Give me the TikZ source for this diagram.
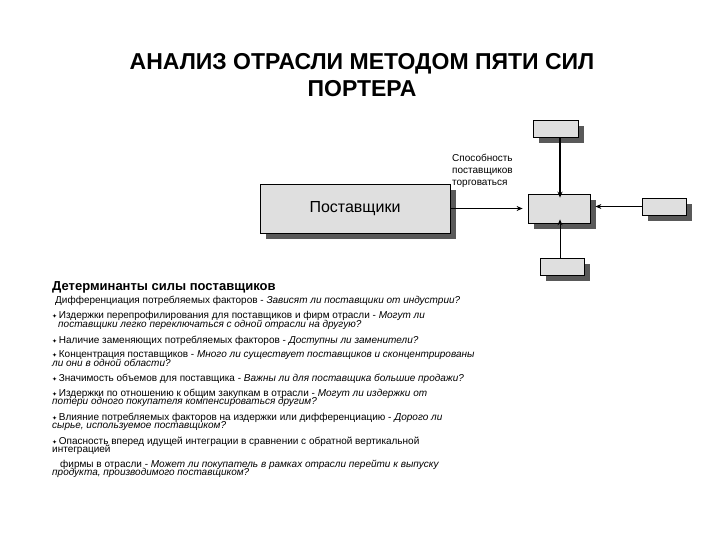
\documentclass[tikz,border=0pt]{standalone}
\usepackage{fontspec}
\usetikzlibrary{arrows.meta}
\setmainfont{Liberation Sans}
\newfontfamily\djvfont{DejaVu Sans}
\begin{document}
\begin{tikzpicture}[x=1pt,y=-1pt,
  box/.style={draw=black,fill=gray!25,line width=0.8pt},
  shad/.style={fill=gray!70!black},
  arr/.style={-{Stealth[length=6pt,width=5pt]},line width=0.8pt},
  ln/.style={anchor=base west,inner sep=0pt,font=\fontsize{10}{11}\selectfont}]
\useasboundingbox (0,0) rectangle (720,540);
\node[font=\fontsize{23}{27}\selectfont\bfseries,align=center] (title) at (362,75) {АНАЛИЗ ОТРАСЛИ МЕТОДОМ ПЯТИ СИЛ\\ПОРТЕРА};
% shadows
\fill[shad] (266,190) rectangle (456,239);
\fill[shad] (539,126) rectangle (584,143);
\fill[shad] (534,200) rectangle (596,229);
\fill[shad] (648,204) rectangle (692,221);
\fill[shad] (546,264) rectangle (590,281);
\node[box,minimum width=190,minimum height=49,font=\fontsize{16}{18}\selectfont] (sup) at (355,208.5) {Поставщики};
\node[box,minimum width=45,minimum height=17] (top) at (555.5,128.5) {};
\node[box,minimum width=62,minimum height=29] (ctr) at (559,208.5) {};
\node[box,minimum width=44,minimum height=17] (rgt) at (664,206.5) {};
\node[box,minimum width=44,minimum height=17] (bot) at (562,266.5) {};
\coordinate (t1) at (560,0);
\draw[arr,line width=1.2pt] (sup.east) -- ([xshift=-5]ctr.west);
\draw[arr,line width=1.2pt] (top.south -| t1) -- ([yshift=-4]ctr.north -| t1);
\draw[arr] (rgt.west) -- ([xshift=5]ctr.east |- rgt.west);
\draw[arr] (bot.north -| t1) -- ([yshift=4]ctr.south -| t1);
\node[anchor=north west,align=left,inner sep=0pt,font=\fontsize{10}{12}\selectfont] (lab) at (452,154) {Способность\\поставщиков\\торговаться};
\node[anchor=base west,inner sep=0pt,font=\fontsize{13}{15}\selectfont\bfseries] (hd) at (52,290) {Детерминанты силы поставщиков};
\newcommand\bl{{\djvfont\fontsize{6}{6}\selectfont ✦}\,}
\node[ln] (l1) at (55,303) {Дифференциация потребляемых факторов - \textit{Зависят ли поставщики от индустрии?}};
\node[ln] (l2) at (52,318) {\bl Издержки перепрофилирования для поставщиков и фирм отрасли - \textit{Могут ли}};
\node[ln] (l3) at (58,327) {\textit{поставщики легко переключаться с одной отрасли на другую?}};
\node[ln] (l4) at (52,343) {\bl Наличие заменяющих потребляемых факторов - \textit{Доступны ли заменители?}};
\node[ln] (l5) at (52,357) {\bl Концентрация поставщиков - \textit{Много ли существует поставщиков и сконцентрированы}};
\node[ln] (l6) at (52,366) {\textit{ли они в одной области?}};
\node[ln] (l7) at (52,381) {\bl Значимость объемов для поставщика - \textit{Важны ли для поставщика большие продажи?}};
\node[ln] (l8) at (52,396) {\bl Издержки по отношению к общим закупкам в отрасли - \textit{Могут ли издержки от}};
\node[ln] (l9) at (52,404) {\textit{потери одного покупателя компенсироваться другим?}};
\node[ln] (l10) at (52,420) {\bl Влияние потребляемых факторов на издержки или дифференциацию - \textit{Дорого ли}};
\node[ln] (l11) at (52,428) {\textit{сырье, используемое поставщиком?}};
\node[ln] (l12) at (52,444) {\bl Опасность вперед идущей интеграции в сравнении с обратной вертикальной};
\node[ln] (l13) at (52,452) {интеграцией};
\node[ln] (l14) at (60,467) {фирмы в отрасли - \textit{Может ли покупатель в рамках отрасли перейти к выпуску}};
\node[ln] (l15) at (52,475) {\textit{продукта, производимого поставщиком?}};
\end{tikzpicture}
\end{document}
